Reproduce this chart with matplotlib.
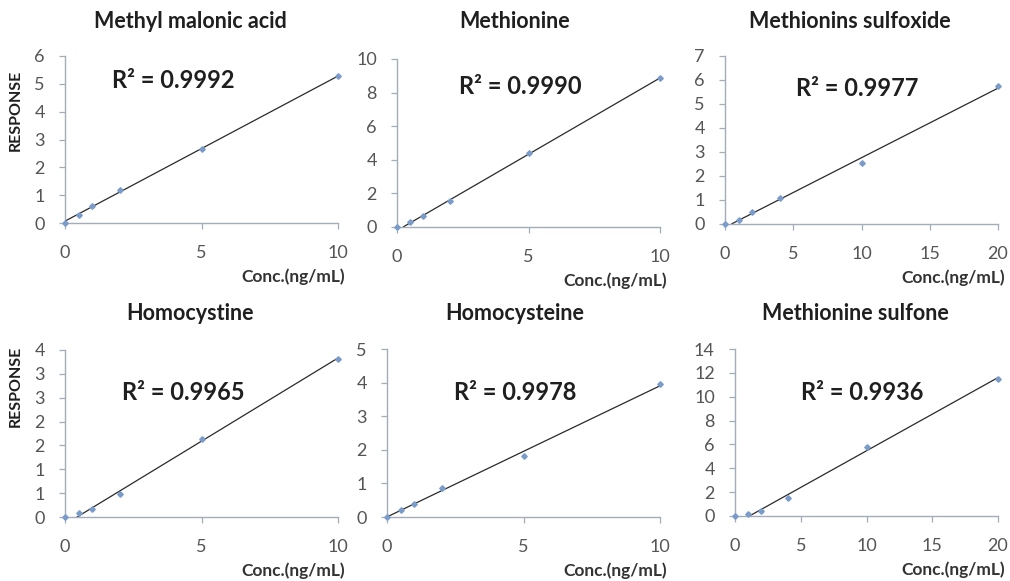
import numpy as np
import matplotlib
matplotlib.use("Agg")
import matplotlib.pyplot as plt
from matplotlib.ticker import FixedLocator, FixedFormatter

plt.rcParams['font.family'] = ['Lato', 'DejaVu Sans']

titles = ["Methyl malonic acid", "Methionine", "Methionins sulfoxide",
          "Homocystine", "Homocysteine", "Methionine sulfone"]
r2_labels = ["R² = 0.9992", "R² = 0.9990", "R² = 0.9977",
             "R² = 0.9965", "R² = 0.9978", "R² = 0.9936"]

conc_a = [0, 0.5, 1, 2, 5, 10]
conc_b = [0, 1, 2, 4, 10, 20]

resp_mma = [0, 0.27, 0.6, 1.18, 2.65, 5.28]
resp_met = [0, 0.3, 0.65, 1.55, 4.4, 8.85]
resp_mso = [0, 0.18, 0.48, 1.08, 2.55, 5.75]
resp_hcy2 = [0, 0.08, 0.16, 0.48, 1.64, 3.32]
resp_hcy = [0, 0.2, 0.38, 0.87, 1.83, 3.95]
resp_msn = [0, 0.15, 0.4, 1.5, 5.8, 11.5]

xticks_a = [0, 5, 10]
xticks_b = [0, 5, 10, 15, 20]

yticks_mma = [0, 1, 2, 3, 4, 5, 6]
yticks_met = [0, 2, 4, 6, 8, 10]
yticks_mso = [0, 1, 2, 3, 4, 5, 6, 7]
yticks_hcy2 = [0, 0.5, 1, 1.5, 2, 2.5, 3, 3.5]
ylabels_hcy2 = ["0", "1", "1", "2", "2", "3", "3", "4"]
yticks_hcy = [0, 1, 2, 3, 4, 5]
yticks_msn = [0, 2, 4, 6, 8, 10, 12, 14]

W, H = 1010, 581
fig = plt.figure(figsize=(W / 100, H / 100), dpi=100)

panels = [
    (conc_a, resp_mma, xticks_a, yticks_mma, None, (65, 56, 338, 223), 190, (173, 80)),
    (conc_a, resp_met, xticks_a, yticks_met, None, (397, 59, 660, 227), 515, (520, 86)),
    (conc_b, resp_mso, xticks_b, yticks_mso, None, (725, 56, 998, 224), 850, (857, 89)),
    (conc_a, resp_hcy2, xticks_a, yticks_hcy2, ylabels_hcy2, (65, 350, 338, 517), 190, (183, 392)),
    (conc_a, resp_hcy, xticks_a, yticks_hcy, None, (387, 349, 660, 517), 515, (515, 393)),
    (conc_b, resp_msn, xticks_b, yticks_msn, None, (735, 349, 998, 516), 855, (862, 392)),
]

spine = "#a3adb8"
tick_color = "#555555"

for i, (x, y, xt, yt, yl, box, tx, r2pos) in enumerate(panels):
    l, t, r, b = box
    ax = fig.add_axes([l / W, 1 - b / H, (r - l) / W, (b - t) / H])
    ax.set_xlim(0, xt[-1])
    ax.set_ylim(0, yt[-1])
    for s in ["top", "right"]:
        ax.spines[s].set_visible(False)
    for s in ["left", "bottom"]:
        ax.spines[s].set_color(spine)
        ax.spines[s].set_linewidth(1.0)
    ax.yaxis.set_major_locator(FixedLocator(yt))
    if yl is not None:
        ax.yaxis.set_major_formatter(FixedFormatter(yl))
    else:
        ax.set_yticks(yt)
        ax.set_yticklabels([str(v) for v in yt])
    ax.set_xticks(xt)
    ax.set_xticklabels([str(v) for v in xt])
    ax.tick_params(axis="x", direction="out", length=4.5, width=0.9, color=spine,
                   labelsize=13, labelcolor=tick_color, pad=11)
    ax.tick_params(axis="y", direction="out", length=4.5, width=0.9, color=spine,
                   labelsize=13, labelcolor=tick_color, pad=10)

    xa = np.array(x, float)
    ya = np.array(y, float)
    k, c = np.polyfit(xa[1:], ya[1:], 1)
    xs = np.linspace(0, xt[-1], 400)
    ys = k * xs + c
    m = ys >= 0
    ax.plot(xs[m], ys[m], color="#2a2a2a", lw=0.9, zorder=2)
    ax.plot(xa, ya, linestyle="none", marker="D", markersize=2.8,
            color="#7a9cc8", markeredgecolor="#7a9cc8", zorder=3, clip_on=False)

    fig.text(tx / W, 1 - (22 if i < 3 else 314) / H, titles[i],
             ha="center", va="center", fontsize=15.5, fontweight="bold", color="#1f1f1f")
    fig.text(r2pos[0] / W, 1 - r2pos[1] / H, r2_labels[i], ha="center", va="center",
             fontsize=17, fontweight="bold", color="#1f1f1f")
    fig.text((r + 7) / W, 1 - (b + 54) / H, "Conc.(ng/mL)", ha="right", va="center",
             fontsize=12.5, fontweight="bold", color="#333333")

fig.text(16 / W, 1 - 110 / H, "RESPONSE", rotation=90, ha="center", va="center",
         fontsize=11.5, fontweight="bold", color="#1f1f1f")
fig.text(16 / W, 1 - 386 / H, "RESPONSE", rotation=90, ha="center", va="center",
         fontsize=11.5, fontweight="bold", color="#1f1f1f")

fig.savefig("out.png", dpi=100, facecolor="white")
